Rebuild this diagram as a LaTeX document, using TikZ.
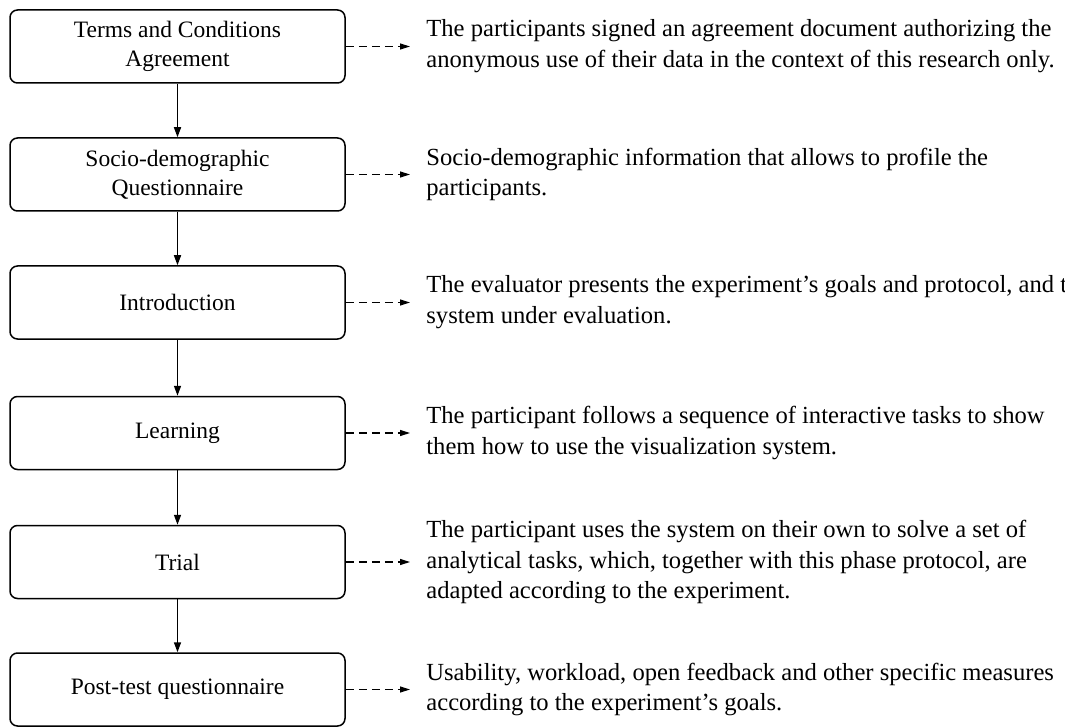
\documentclass[tikz,border=0pt]{standalone}
\usepackage{fontspec}
\setmainfont{Liberation Serif}
\usetikzlibrary{arrows.meta}

\tikzset{
  stage/.style={draw,line width=0.75pt,rounded corners=3.75pt,inner sep=0pt,
    minimum width=167.5pt,minimum height=36.5pt,align=center,
    font=\fontsize{11.75}{14.5}\selectfont},
  info/.style={anchor=west,inner sep=0pt,align=left,
    font=\fontsize{12.3}{15.4}\selectfont},
  flow/.style={line width=0.75pt,-{Triangle[length=5pt,width=3.5pt]}},
  detail/.style={line width=0.65pt,dash pattern=on 4pt off 2.5pt,
    -{Triangle[length=5pt,width=3pt]},shorten >=8pt}
}

\begin{document}
\begin{tikzpicture}[x=0.5pt,y=-0.5pt]
\useasboundingbox (0,0) rectangle (1065,727);

%% stages
\node[stage] (terms) at (177.5,46.5) {Terms and Conditions\\Agreement};
\node[stage] (socio) at (177.5,174.5) {Socio-demographic\\Questionnaire};
\node[stage] (intro) at (177.5,302.5) {Introduction};
\node[stage] (learn) at (177.5,433) {Learning};
\node[stage] (trial) at (177.5,562) {Trial};
\node[stage] (post) at (177.5,689.5) {Post-test questionnaire};

%% descriptions
\node[info] (termsinfo) at (426,46.5) {The participants signed an agreement document authorizing the\\anonymous use of their data in the context of this research only.};
\node[info] (socioinfo) at (426,174.5) {Socio-demographic information that allows to profile the\\participants.};
\node[info] (introinfo) at (426,302.5) {The evaluator presents the experiment's goals and protocol, and the\\system under evaluation.};
\node[info] (learninfo) at (426,433) {The participant follows a sequence of interactive tasks to show\\them how to use the visualization system.};
\node[info] (trialinfo) at (426,562) {The participant uses the system on their own to solve a set of\\analytical tasks, which, together with this phase protocol, are\\adapted according to the experiment.};
\node[info] (postinfo) at (426,689.5) {Usability, workload, open feedback and other specific measures\\according to the experiment's goals.};

%% flow
\draw[flow] (terms) -- (socio);
\draw[flow] (socio) -- (intro);
\draw[flow] (intro) -- (learn);
\draw[flow] (learn) -- (trial);
\draw[flow] (trial) -- (post);

%% details
\foreach \s in {terms,socio,intro,learn,trial,post}
  \draw[detail] (\s.east) -- (\s.east -| \s info.west);
\end{tikzpicture}
\end{document}
